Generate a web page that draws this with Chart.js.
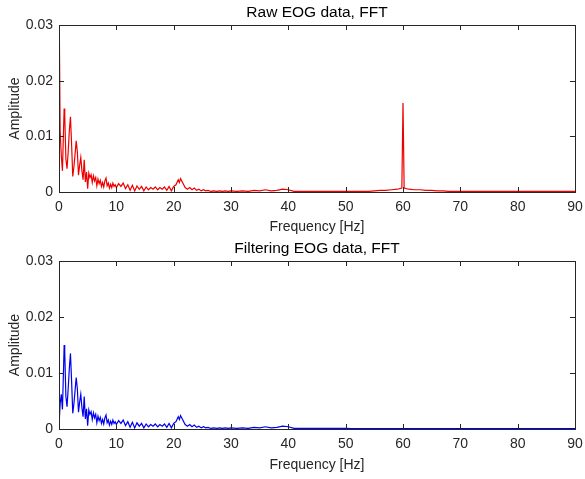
<!DOCTYPE html>
<html>
<head>
<meta charset="utf-8">
<script src="https://cdn.jsdelivr.net/npm/chart.js@4/dist/chart.umd.min.js"></script>
<style>
  html, body { margin: 0; padding: 0; background: #fff; }
  body { width: 585px; height: 479px; position: relative; overflow: hidden; }
  canvas { position: absolute; left: 0; }
  #rawChart { top: 0; }
  #filtChart { top: 236px; }
</style>
</head>
<body>
<canvas id="rawChart" width="585" height="240"></canvas>
<canvas id="filtChart" width="585" height="243"></canvas>
<script>
// frequency bins (Hz), finer at low frequencies
const freqHz = [
  0, 0.05, 0.2, 0.4, 0.6, 0.8, 0.9, 1.0, 1.2, 1.4, 1.6, 1.8,
  2.0, 2.2, 2.4, 2.6, 2.8, 3.0, 3.2, 3.4, 3.6, 3.8,
  4.0, 4.2, 4.4, 4.6, 4.8, 5.0, 5.2, 5.4, 5.6, 5.8,
  6.0, 6.2, 6.4, 6.6, 6.8, 7.0, 7.2, 7.4, 7.6, 7.8,
  8.0, 8.2, 8.4, 8.6, 8.8, 9.0, 9.2, 9.4, 9.6, 9.8,
  10.0, 10.4, 10.8, 11.2, 11.6, 12.0, 12.4, 12.8, 13.2, 13.6,
  14.0, 14.4, 14.8, 15.2, 15.6, 16.0, 16.4, 16.8, 17.2, 17.6,
  18.0, 18.4, 18.8, 19.2, 19.6, 20.0, 20.4, 20.8, 21.0, 21.2,
  21.6, 22.0, 22.4, 22.8, 23.2, 23.6, 24.0, 24.4, 24.8, 25.2,
  25.6, 26.0, 26.5, 27, 27.5, 28, 28.5, 29, 29.5, 30,
  31, 32, 33, 34, 35, 36, 37, 38, 39, 40,
  41, 42, 43, 44, 45, 46, 47, 48, 49, 50,
  51, 52, 53, 54, 55, 56, 57, 58, 59, 59.8,
  60, 60.2, 61, 62, 63, 64, 65, 66, 67, 68,
  70, 72, 74, 76, 78, 80, 82, 84, 86, 88,
  90
];

const rawAmp = [
  0.0230, 0.0300, 0.0110, 0.0065, 0.0038, 0.0115, 0.0150, 0.0138, 0.0060, 0.0042, 0.0072, 0.0110,
  0.0135, 0.0085, 0.0028, 0.0045, 0.0068, 0.0092, 0.0072, 0.0030, 0.0048, 0.0062,
  0.0038, 0.0022, 0.0058, 0.0018, 0.0036, 0.0006, 0.0034, 0.0026, 0.0031, 0.0017,
  0.0029, 0.0020, 0.0026, 0.0011, 0.0023, 0.0015, 0.0021, 0.0010, 0.0017, 0.0009,
  0.0020, 0.0025, 0.0011, 0.0016, 0.0007, 0.0014, 0.0008, 0.0016, 0.0010, 0.0013,
  0.0008, 0.0015, 0.0010, 0.0016, 0.0006, 0.0013, 0.0003, 0.0012, 0.0002, 0.0011,
  0.0005, 0.0010, 0.0002, 0.0009, 0.0004, 0.0008, 0.0005, 0.0009, 0.0004, 0.0008,
  0.0005, 0.0009, 0.0003, 0.0010, 0.0002, 0.0010, 0.0013, 0.0022, 0.0017, 0.0024,
  0.0016, 0.0008, 0.0005, 0.0008, 0.0004, 0.0007, 0.0003, 0.0005, 0.0002, 0.0004,
  0.0002, 0.0003, 0.0001, 0.0002, 0.0001, 0.0002, 0.0001, 0.0002, 0.0001, 0.0002,
  0.0001, 0.0002, 0.0001, 0.0003, 0.0002, 0.0004, 0.0002, 0.0003, 0.0005, 0.0004,
  0.0001, 0.0001, 0.0001, 0.0001, 0.0001, 0.0001, 0.0001, 0.0001, 0.0001, 0.0001,
  0.0001, 0.0001, 0.0001, 0.0001, 0.0002, 0.0003, 0.0003, 0.0004, 0.0005, 0.0007,
  0.0160, 0.0007, 0.0005, 0.0004, 0.0004, 0.0003, 0.0003, 0.0002, 0.0002, 0.0001,
  0.0001, 0.0001, 0.0001, 0.0001, 0.0001, 0.0001, 0.0001, 0.0001, 0.0001, 0.0001,
  0.0001
];

const filtAmp = [
  0.0000, 0.0015, 0.0045, 0.0062, 0.0035, 0.0110, 0.0150, 0.0138, 0.0058, 0.0040, 0.0072, 0.0108,
  0.0135, 0.0085, 0.0028, 0.0045, 0.0068, 0.0092, 0.0072, 0.0030, 0.0048, 0.0062,
  0.0038, 0.0022, 0.0058, 0.0018, 0.0036, 0.0006, 0.0034, 0.0026, 0.0031, 0.0017,
  0.0029, 0.0020, 0.0026, 0.0011, 0.0023, 0.0015, 0.0021, 0.0010, 0.0017, 0.0009,
  0.0020, 0.0025, 0.0011, 0.0016, 0.0007, 0.0014, 0.0008, 0.0016, 0.0010, 0.0013,
  0.0008, 0.0015, 0.0010, 0.0016, 0.0006, 0.0013, 0.0003, 0.0012, 0.0002, 0.0011,
  0.0005, 0.0010, 0.0002, 0.0009, 0.0004, 0.0008, 0.0005, 0.0009, 0.0004, 0.0008,
  0.0005, 0.0009, 0.0003, 0.0010, 0.0002, 0.0010, 0.0013, 0.0022, 0.0017, 0.0024,
  0.0016, 0.0008, 0.0005, 0.0008, 0.0004, 0.0007, 0.0003, 0.0005, 0.0002, 0.0004,
  0.0002, 0.0003, 0.0001, 0.0002, 0.0001, 0.0002, 0.0001, 0.0002, 0.0001, 0.0002,
  0.0001, 0.0002, 0.0001, 0.0003, 0.0002, 0.0004, 0.0002, 0.0003, 0.0005, 0.0004,
  0.0001, 0.0001, 0.0001, 0.0001, 0.0001, 0.0001, 0.0001, 0.0001, 0.0001, 0.0001,
  0.00005, 0.00005, 0.00005, 0.00005, 0.00005, 0.00005, 0.00005, 0.00005, 0.00005, 0.00005,
  0.00005, 0.00005, 0.00005, 0.00005, 0.00005, 0.00005, 0.00005, 0.00005, 0.00005, 0.00005,
  0.00005, 0.00005, 0.00005, 0.00005, 0.00005, 0.00005, 0.00005, 0.00005, 0.00005, 0.00005,
  0.00005
];

const xTicks = [0, 10, 20, 30, 40, 50, 60, 70, 80, 90];
const yTicks = [0, 0.01, 0.02, 0.03];

const FONT = 'Liberation Sans, Arial, Helvetica, sans-serif';
const TEXT = '#262626';

// matlab style box: full frame, inward ticks, title above
const boxPlugin = {
    id: 'boxPlugin',
    afterDraw(chart, args, opts) {
        const { ctx, chartArea: a, scales } = chart;
        ctx.save();
        ctx.strokeStyle = TEXT;
        ctx.lineWidth = 1;
        ctx.strokeRect(Math.round(a.left) + 0.5, Math.round(a.top) + 0.5,
            Math.round(a.right - a.left), Math.round(a.bottom - a.top));
        ctx.beginPath();
        xTicks.forEach(v => {
            const px = Math.round(scales.x.getPixelForValue(v)) + 0.5;
            ctx.moveTo(px, a.bottom); ctx.lineTo(px, a.bottom - 5);
            ctx.moveTo(px, a.top); ctx.lineTo(px, a.top + 5);
        });
        yTicks.forEach(v => {
            const py = Math.round(scales.y.getPixelForValue(v)) + 0.5;
            ctx.moveTo(a.left, py); ctx.lineTo(a.left + 5, py);
            ctx.moveTo(a.right, py); ctx.lineTo(a.right - 5, py);
        });
        ctx.stroke();
        ctx.fillStyle = '#000';
        ctx.font = '15.5px ' + FONT;
        ctx.textAlign = 'center';
        ctx.textBaseline = 'middle';
        ctx.fillText(opts.text, (a.left + a.right) / 2, a.top - 12);
        ctx.restore();
    }
};

function makeChart(id, title, amps, color, xAxisHeight, xTitlePad) {
    const ctx = document.getElementById(id).getContext('2d');
    return new Chart(ctx, {
        type: 'line',
        data: {
            datasets: [{
                data: freqHz.map((f, i) => ({ x: f, y: amps[i] })),
                borderColor: color,
                borderWidth: 1.2,
                pointRadius: 0,
                tension: 0,
                fill: false
            }]
        },
        options: {
            responsive: false,
            animation: false,
            devicePixelRatio: 1,
            layout: { padding: { top: 25, right: 10, bottom: 0, left: 0 } },
            plugins: {
                legend: { display: false },
                tooltip: { enabled: false },
                boxPlugin: { text: title }
            },
            scales: {
                x: {
                    type: 'linear',
                    min: 0,
                    max: 90,
                    afterBuildTicks: s => { s.ticks = xTicks.map(v => ({ value: v })); },
                    afterFit: s => { s.height = xAxisHeight; s.paddingLeft = 0; s.paddingRight = 0; },
                    grid: { display: false, drawTicks: false },
                    border: { display: false },
                    ticks: { color: TEXT, font: { family: FONT, size: 14 }, padding: 7, maxRotation: 0 },
                    title: {
                        display: true, text: 'Frequency [Hz]', color: TEXT,
                        font: { family: FONT, size: 14 }, padding: { top: 0, bottom: xTitlePad }
                    }
                },
                y: {
                    min: 0,
                    max: 0.03,
                    afterBuildTicks: s => { s.ticks = yTicks.map(v => ({ value: v })); },
                    afterFit: s => { s.width = 59; s.paddingTop = 0; s.paddingBottom = 0; },
                    grid: { display: false, drawTicks: false },
                    border: { display: false },
                    ticks: {
                        color: TEXT, font: { family: FONT, size: 14 }, padding: 6,
                        callback: v => v === 0 ? '0' : v.toFixed(2)
                    },
                    title: {
                        display: true, text: 'Amplitude', color: TEXT,
                        font: { family: FONT, size: 14 }, padding: { top: 7, bottom: 0 }
                    }
                }
            }
        },
        plugins: [boxPlugin]
    });
}

makeChart('rawChart', 'Raw EOG data, FFT', rawAmp, '#ee0000', 48, 4);
makeChart('filtChart', 'Filtering EOG data, FFT', filtAmp, '#0000ee', 50, 5);
</script>
</body>
</html>
